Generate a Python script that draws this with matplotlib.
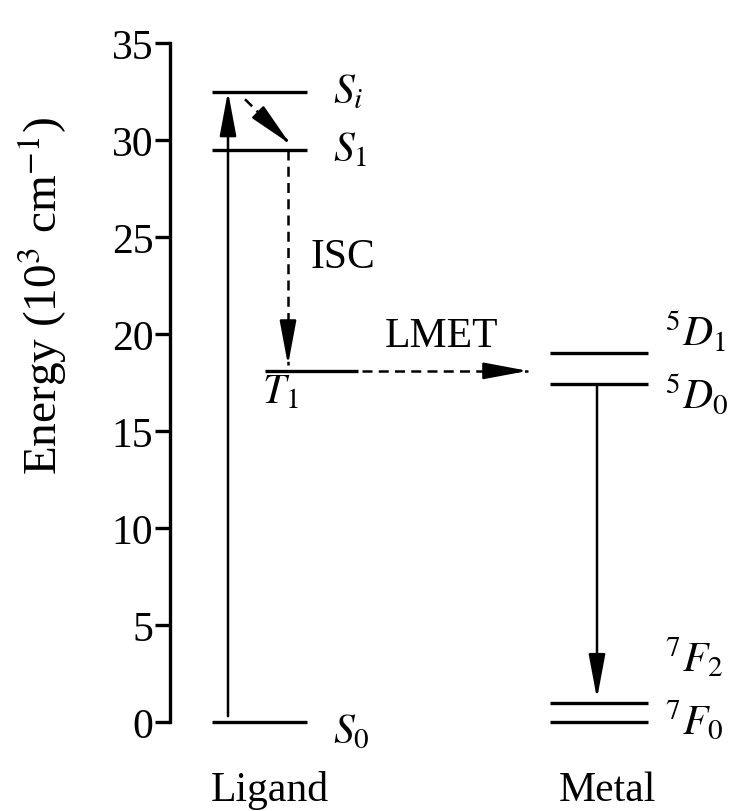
"""
Energy level diagram: ligand-sensitised Eu(III) emission (antenna effect).
"""
import matplotlib
matplotlib.use("Agg")
import matplotlib.pyplot as plt

plt.rcParams["font.family"] = ["Liberation Serif", "DejaVu Serif"]
plt.rcParams["mathtext.fontset"] = "stix"

# Energies in 10^3 cm^-1
ligand_labels = [r"$S_i$", r"$S_1$", r"$T_1$", r"$S_0$"]
ligand_energy = [32.5, 29.5, 18.1, 0.0]
metal_labels = [r"$^5D_1$", r"$^5D_0$", r"$^7F_2$", r"$^7F_0$"]
metal_energy = [19.0, 17.4, 1.0, 0.0]
yticks = [0, 5, 10, 15, 20, 25, 30, 35]

# horizontal extent of each level (x in arbitrary units, 0 = energy axis)
ligand_span = (42, 137)
triplet_span = (95, 188)
metal_span = (380, 478)

fig = plt.figure(figsize=(7.47, 8.12), dpi=100)
ax = fig.add_axes([170 / 747, 89 / 812, 577 / 747, 679 / 812])
ax.set_xlim(0, 577)
ax.set_ylim(0, 35)

LW = 2.4
for lab, e in zip(ligand_labels, ligand_energy):
    span = triplet_span if lab == r"$T_1$" else ligand_span
    ax.plot(span, [e, e], color="black", lw=LW, solid_capstyle="butt", clip_on=False)
for e in metal_energy:
    ax.plot(metal_span, [e, e], color="black", lw=LW, solid_capstyle="butt", clip_on=False)

# level labels
fs = 30
ax.text(163, ligand_energy[0], ligand_labels[0], fontsize=fs, va="center", ha="left")
ax.text(163, ligand_energy[1], ligand_labels[1], fontsize=fs, va="center", ha="left")
ax.text(92, ligand_energy[2] - 1.1, ligand_labels[2], fontsize=fs, va="center", ha="left")
ax.text(163, ligand_energy[3] - 0.5, ligand_labels[3], fontsize=fs, va="center", ha="left",
        clip_on=False)
ax.text(495, metal_energy[0] + 1.1, metal_labels[0], fontsize=fs, va="center", ha="left")
ax.text(495, metal_energy[1] - 0.5, metal_labels[1], fontsize=fs, va="center", ha="left")
ax.text(495, metal_energy[2] + 2.3, metal_labels[2], fontsize=fs, va="center", ha="left")
ax.text(495, metal_energy[3] + 0.1, metal_labels[3], fontsize=fs, va="center", ha="left",
        clip_on=False)

ax.text(140, 24.0, "ISC", fontsize=fs, va="center", ha="left")
ax.text(272, 19.9, "LMET", fontsize=fs, va="center", ha="center")
ax.text(100, -4.0, "Ligand", fontsize=fs, va="baseline", ha="center", clip_on=False)
ax.text(437, -4.0, "Metal", fontsize=fs, va="baseline", ha="center", clip_on=False)

head = "-|>,head_length=1.6,head_width=0.3"


def arrow(x0, y0, x1, y1, dashed=False):
    props = dict(arrowstyle=head, color="black", lw=1.8, mutation_scale=17,
                 shrinkA=0, shrinkB=0)
    if dashed:
        # dashed shaft, solid filled head
        ax.plot([x0, x1], [y0, y1], color="black", lw=1.8, ls=(0, (4, 2.5)))
        ax.annotate("", xy=(x1, y1),
                    xytext=(x0 + (x1 - x0) * 0.9, y0 + (y1 - y0) * 0.9),
                    arrowprops=props)
    else:
        ax.annotate("", xy=(x1, y1), xytext=(x0, y0), arrowprops=props)


# absorption S0 -> Si
arrow(58, ligand_energy[3] + 0.3, 58, ligand_energy[0])
# internal conversion Si -> S1
arrow(75, 32.1, 120, 29.8, dashed=True)
# intersystem crossing S1 -> T1
arrow(118, ligand_energy[1], 118, ligand_energy[2] + 0.3, dashed=True)
# ligand-to-metal energy transfer T1 -> 5D
arrow(192, ligand_energy[2], 358, ligand_energy[2], dashed=True)
# emission 5D0 -> 7F2
arrow(427, metal_energy[1], 427, metal_energy[2] + 0.2)

# axis styling
for side in ("top", "right", "bottom"):
    ax.spines[side].set_visible(False)
ax.spines["left"].set_linewidth(LW)
ax.spines["left"].set_bounds(0, 35)
ax.set_xticks([])
ax.set_yticks(yticks)
ax.set_yticklabels([str(t) for t in yticks], fontsize=fs)
ax.tick_params(axis="y", direction="out", length=11, width=LW, pad=1)

fig.text(42 / 747, 1 - 296 / 812, r"Energy (10$^3$ cm$^{-1}$)", fontsize=34,
         rotation=90, ha="center", va="center")

fig.savefig("out.png", dpi=100)
